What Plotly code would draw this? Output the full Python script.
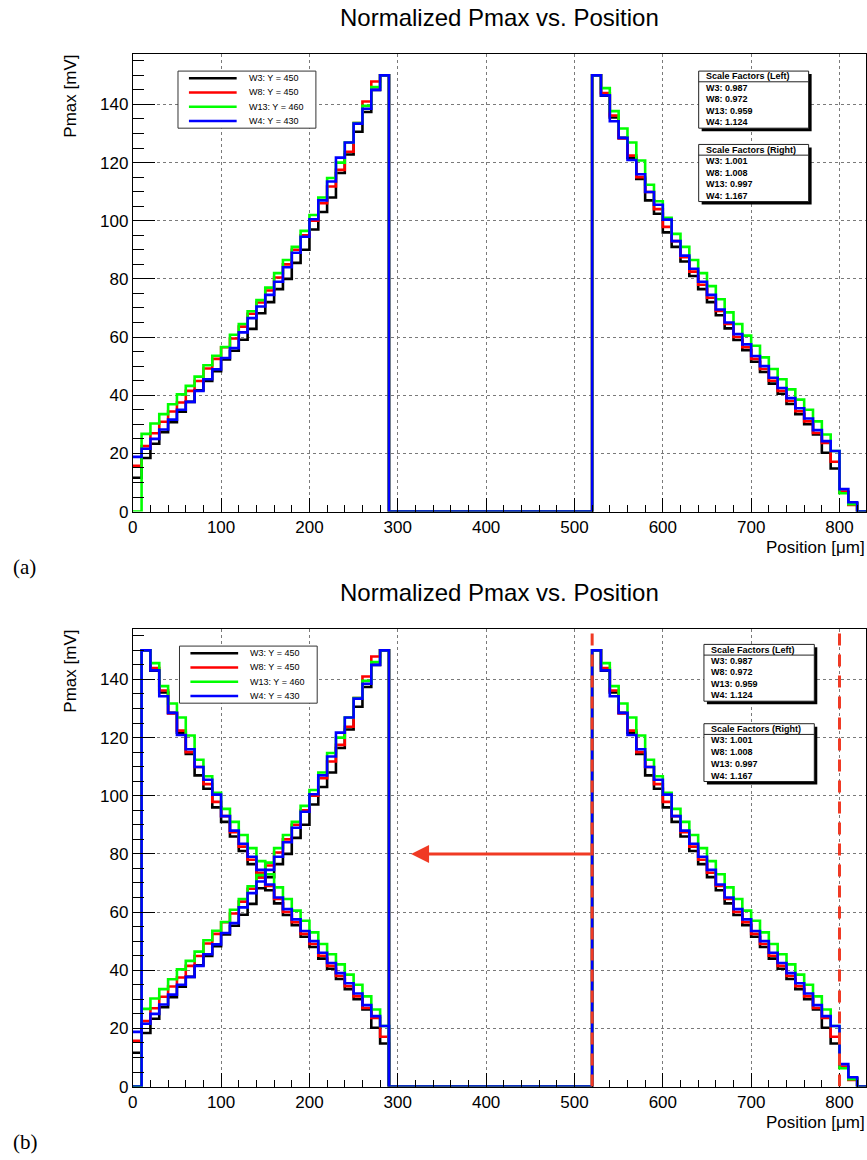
import numpy as np
import plotly.graph_objects as go

# ---------------- data ----------------
BIN_W = 10
X_MAX = 830
Y_MAX = 157.5
LEFT_START = 0
RIGHT_START = 520
SHIFT = 510
CUT_LO = 520
CUT_HI = 800
ARROW_Y = 80
ARROW_TIP = 315

series_names = ["W3", "W8", "W13", "W4"]
series_ypos = [450, 450, 460, 430]
series_colors = ["#000000", "#ff0000", "#00ff00", "#0000ff"]

# left ramp, bins 0..290
w3_left = [11.6, 18.4, 23.3, 27.3, 30.7, 34.3, 37.7, 41.7, 44.9, 48.3, 52.3, 55.3, 59.1, 62.8, 68.2,
           72.0, 76.5, 80.0, 85.5, 90.0, 97.0, 103.0, 108.0, 116.4, 122.8, 130.6, 137.4, 145.0, 150.0]
w8_left = [15.7, 22.5, 26.9, 30.9, 34.4, 37.5, 41.5, 44.9, 49.2, 52.5, 56.5, 59.5, 63.6, 68.0, 71.9,
           76.0, 80.5, 85.0, 90.0, 95.0, 100.0, 106.0, 111.8, 117.5, 123.7, 133.6, 141.0, 147.9, 150.0]
w13_left = [0.0, 26.7, 30.3, 33.5, 36.9, 40.3, 43.2, 46.4, 50.3, 53.6, 56.6, 60.8, 64.5, 68.9, 72.7,
            77.0, 82.0, 86.5, 91.0, 96.5, 102.0, 108.0, 114.7, 120.0, 126.9, 133.6, 139.5, 146.0, 150.0]
w4_left = [18.8, 21.6, 25.0, 28.2, 31.6, 35.0, 37.7, 41.5, 45.5, 48.9, 52.8, 56.2, 61.6, 66.5, 70.5,
           74.5, 79.0, 84.0, 89.0, 94.5, 100.5, 107.0, 113.5, 121.7, 126.9, 133.4, 138.5, 145.0, 150.0]

# right ramp, bins 520..830
w3_right = [150.0, 143.0, 135.5, 128.5, 121.7, 114.4, 107.0, 102.4, 96.0, 91.0, 86.0, 81.0, 76.5, 72.0,
            67.5, 63.0, 59.0, 55.5, 51.5, 48.0, 44.0, 40.5, 37.0, 33.5, 30.0, 26.5, 20.2, 14.8, 6.5, 2.8, 0.0]
w8_right = [150.0, 143.9, 136.2, 128.3, 122.4, 115.0, 109.9, 104.0, 97.9, 93.0, 87.5, 82.5, 78.0, 73.5,
            69.0, 64.5, 60.0, 56.5, 52.5, 49.0, 45.0, 41.5, 38.0, 34.5, 31.0, 27.0, 23.6, 17.1, 6.9, 2.3, 0.0]
w13_right = [150.0, 145.6, 137.7, 131.7, 126.9, 120.7, 112.4, 106.7, 101.0, 95.5, 91.0, 86.5, 82.0, 77.5,
             73.0, 68.5, 64.5, 60.5, 57.0, 53.0, 49.0, 45.5, 42.0, 38.5, 35.0, 31.0, 26.5, 20.8, 6.3, 2.5, 0.0]
w4_right = [150.0, 143.1, 134.2, 128.5, 120.9, 116.0, 109.9, 105.5, 100.4, 93.0, 88.0, 83.5, 79.0, 74.5,
            69.5, 65.0, 61.0, 57.5, 53.5, 50.0, 46.0, 42.5, 39.0, 35.5, 32.0, 28.0, 24.2, 20.8, 7.7, 3.2, 0.0]

scale_left = ["0.987", "0.972", "0.959", "1.124"]
scale_right = ["1.001", "1.008", "0.997", "1.167"]

x_tick0, x_dtick, x_minor = 0, 100, 20
y_tick0, y_dtick, y_minor = 0, 20, 5

title_text = "Normalized Pmax vs. Position"
x_title = "Position [\u03bcm]"
y_title = "Pmax [mV]"
panel_labels = ["(a)", "(b)"]

lefts = [w3_left, w8_left, w13_left, w4_left]
rights = [w3_right, w8_right, w13_right, w4_right]

# ---------------- build histograms ----------------
n_bins = X_MAX // BIN_W
edges = np.arange(0, X_MAX + BIN_W, BIN_W)


def full_hist(left, right):
    v = np.zeros(n_bins)
    i0 = LEFT_START // BIN_W
    v[i0:i0 + len(left)] = left
    j0 = RIGHT_START // BIN_W
    v[j0:j0 + len(right)] = right
    return v


def shifted_hist(full, n_left):
    vals = np.zeros(n_left)
    for b in range(n_left):
        src = b + SHIFT // BIN_W
        if CUT_LO <= src * BIN_W < CUT_HI:
            vals[b] = full[src]
    return vals


W, H = 867, 1160
FONT = "Liberation Sans, Arial, Helvetica, sans-serif"


def px(x):
    return x / W


def py(y):
    return 1 - y / H


fig = go.Figure()
hists = [full_hist(l, r) for l, r in zip(lefts, rights)]

# panel (a)
for name, col, h in zip(series_names, series_colors, hists):
    fig.add_trace(go.Scatter(x=edges, y=list(h) + [h[-1]], mode="lines", line_shape="hv",
                             line=dict(color=col, width=2.6), xaxis="x", yaxis="y",
                             showlegend=False, hoverinfo="skip", name=name))

# panel (b)
for name, col, h, l in zip(series_names, series_colors, hists, lefts):
    fig.add_trace(go.Scatter(x=edges, y=list(h) + [h[-1]], mode="lines", line_shape="hv",
                             line=dict(color=col, width=2.6), xaxis="x2", yaxis="y2",
                             showlegend=False, hoverinfo="skip", name=name))
    sh = shifted_hist(h, len(l))
    fig.add_trace(go.Scatter(x=edges[:len(l) + 1], y=list(sh) + [0.0], mode="lines", line_shape="hv",
                             line=dict(color=col, width=2.6), xaxis="x2", yaxis="y2",
                             showlegend=False, hoverinfo="skip", name=name + " shifted"))

# ---------------- axes ----------------
xdom = [px(128.5), px(866)]
ydom_a = [py(516), py(54)]
ydom_b = [py(1096), py(634)]

common = dict(showline=True, linecolor="black", linewidth=1, mirror=True, ticks="inside",
              tickcolor="black", tickwidth=1, showgrid=True, gridcolor="#7a7a7a", griddash="dot",
              gridwidth=1, zeroline=False, tickfont=dict(family=FONT, size=17, color="black"),
              fixedrange=True)
xax = dict(common, range=[0, X_MAX], domain=xdom, tickmode="linear", tick0=x_tick0, dtick=x_dtick,
           ticklen=14, minor=dict(dtick=x_minor, tick0=0, ticks="inside", ticklen=7, tickcolor="black",
                                  showgrid=False))
yax = dict(common, range=[0, Y_MAX], tickmode="linear", tick0=y_tick0, dtick=y_dtick,
           ticklen=22, minor=dict(dtick=y_minor, tick0=0, ticks="inside", ticklen=11, tickcolor="black",
                                  showgrid=False))

fig.update_layout(
    width=W, height=H, autosize=False, margin=dict(l=0, r=0, t=0, b=0),
    paper_bgcolor="white", plot_bgcolor="white",
    xaxis=dict(xax, anchor="y"), yaxis=dict(yax, domain=ydom_a, anchor="x"),
    xaxis2=dict(xax, anchor="y2"), yaxis2=dict(yax, domain=ydom_b, anchor="x2"),
)

shapes = []
annotations = []

# panel titles, axis titles, labels
for k, dy in enumerate([0, 580]):
    annotations.append(dict(text=title_text, x=px(497), y=py(18 + dy), xref="paper", yref="paper",
                            showarrow=False, xanchor="center", yanchor="middle",
                            font=dict(family=FONT, size=24, color="black")))
    annotations.append(dict(text=x_title, x=px(866), y=py(552 + dy), xref="paper", yref="paper",
                            showarrow=False, xanchor="right", yanchor="middle", borderpad=0,
                            font=dict(family=FONT, size=17, color="black")))
    annotations.append(dict(text=y_title, x=px(65), y=py(53 + dy), xref="paper", yref="paper",
                            showarrow=False, xanchor="center", yanchor="top", textangle=-90,
                            font=dict(family=FONT, size=17, color="black")))
    annotations.append(dict(text=panel_labels[k], x=px(6), y=py(572 + dy), xref="paper", yref="paper",
                            showarrow=False, xanchor="left", yanchor="middle",
                            font=dict(family="Liberation Serif, Times New Roman, serif", size=21,
                                      color="black")))

# legend boxes
legend_pos = [(174, 71.7, 312.7, 129.3), (175.5, 651.7, 314, 709.3)]
for (x0, y0, x1, y1) in legend_pos:
    shapes.append(dict(type="rect", xref="paper", yref="paper", x0=px(x0), x1=px(x1), y0=py(y0), y1=py(y1),
                       line=dict(color="#333333", width=1), fillcolor="white", layer="above"))
    rh = (y1 - y0) / 4
    for i, (name, yp, col) in enumerate(zip(series_names, series_ypos, series_colors)):
        yc = y0 + rh * (i + 0.5)
        shapes.append(dict(type="line", xref="paper", yref="paper", x0=px(x0 + 11), x1=px(x0 + 59),
                           y0=py(yc), y1=py(yc), line=dict(color=col, width=2.6), layer="above"))
        annotations.append(dict(text=f"{name}: Y = {yp}", x=px(x0 + 69), y=py(yc), xref="paper",
                                yref="paper", showarrow=False, xanchor="left", yanchor="middle",
                                font=dict(family=FONT, size=9, color="black")))

# scale factor boxes
box_sets = [
    [(697.7, 71.7, 808.3, 129.3, "Left", scale_left), (697.7, 145.7, 808.3, 203.3, "Right", scale_right)],
    [(703, 650, 814, 707.3, "Left", scale_left), (703, 730, 814, 788.3, "Right", scale_right)],
]
for boxes in box_sets:
    for (x0, y0, x1, y1, side, vals) in boxes:
        shapes.append(dict(type="rect", xref="paper", yref="paper", x0=px(x0 + 3), x1=px(x1 + 3),
                           y0=py(y0 + 3), y1=py(y1 + 3), line=dict(width=0), fillcolor="black",
                           layer="above"))
        shapes.append(dict(type="rect", xref="paper", yref="paper", x0=px(x0), x1=px(x1),
                           y0=py(y0), y1=py(y1), line=dict(color="#222222", width=1), fillcolor="white",
                           layer="above"))
        hh = 10.8
        shapes.append(dict(type="line", xref="paper", yref="paper", x0=px(x0), x1=px(x1),
                           y0=py(y0 + hh), y1=py(y0 + hh), line=dict(color="#222222", width=1),
                           layer="above"))
        annotations.append(dict(text=f"<b>Scale Factors ({side})</b>", x=px(x0 + 5), y=py(y0 + hh / 2),
                                xref="paper", yref="paper", showarrow=False, xanchor="left",
                                yanchor="middle", font=dict(family=FONT, size=9, color="black")))
        rh = (y1 - y0 - hh) / 4
        for i, (name, v) in enumerate(zip(series_names, vals)):
            yc = y0 + hh + rh * (i + 0.5)
            annotations.append(dict(text=f"<b>{name}: {v}</b>", x=px(x0 + 5), y=py(yc), xref="paper",
                                    yref="paper", showarrow=False, xanchor="left", yanchor="middle",
                                    font=dict(family=FONT, size=9, color="black")))

# panel (b) cut lines and arrow
for xc in [CUT_LO, CUT_HI]:
    shapes.append(dict(type="line", xref="x2", yref="y2", x0=xc, x1=xc, y0=0, y1=Y_MAX,
                       line=dict(color="#f03a24", width=3, dash="12px,9px"), layer="above"))
annotations.append(dict(x=ARROW_TIP, y=ARROW_Y, ax=CUT_LO, ay=ARROW_Y, xref="x2", yref="y2",
                        axref="x2", ayref="y2", text="", showarrow=True, arrowhead=2, arrowsize=1.2,
                        arrowwidth=3, arrowcolor="#f03a24", standoff=0, startstandoff=0))

fig.update_layout(shapes=shapes, annotations=annotations)
fig.write_html("out.html", config={"displayModeBar": False},
               post_script="document.body.style.margin='0';document.body.style.padding='0';"
                           "document.body.style.overflow='hidden';")
